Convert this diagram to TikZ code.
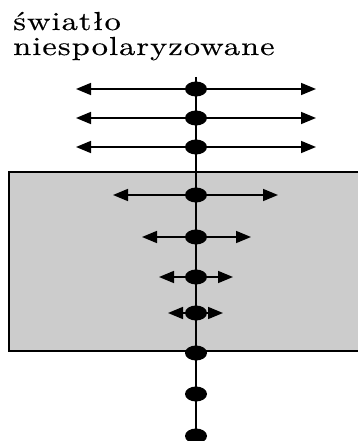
\documentclass[tikz,border=0pt]{standalone}
\usepackage{fontspec}
\newfontfamily\captionfont{lmroman10-regular.otf}[FakeStretch=1.25,LetterSpace=4,FakeBold=0.4]
\usetikzlibrary{arrows.meta,shapes.geometric}
\begin{document}
\begin{tikzpicture}[x=1pt,y=-1pt,
  ray/.style={line width=1.8pt},
  wave/.style={line width=1.6pt,{Triangle[length=15pt,width=12pt]}-{Triangle[length=15pt,width=12pt]}},
  dot/.style={ellipse,fill=black,minimum width=22pt,minimum height=15pt,inner sep=0pt},
  label/.style={anchor=base west,inner sep=0pt,font=\captionfont\fontsize{26}{26}\selectfont}]
\useasboundingbox (0,0) rectangle (357,441);
% polarizer plate
\draw[fill={rgb,255:red,204;green,204;blue,204},line width=1.2pt] (362,172) -- (9,172) -- (9,351) -- (362,351);
% caption
\node[label] (t1) at (13,30) {światło};
\node[label] (t2) at (13,55) {niespolaryzowane};
% propagation axis
\coordinate (top) at (196,77);
\coordinate (bot) at (196,445);
\draw[ray] (top) -- (bot);
% oscillation arrows
\foreach \y/\l/\r [count=\i] in {89/76/316,118/76/316,147/76/316,195/113/278,237/142/251,277/159/233,313/168/223}{
  \coordinate (L\i) at (\l,\y);
  \coordinate (R\i) at (\r,\y);
  \draw[wave] (L\i) -- (R\i);
}
% dots on the axis
\foreach \y [count=\i] in {89,118,147,195,237,277,313,353,394,436}{
  \node[dot] (d\i) at (196,\y) {};
}
\end{tikzpicture}
\end{document}
